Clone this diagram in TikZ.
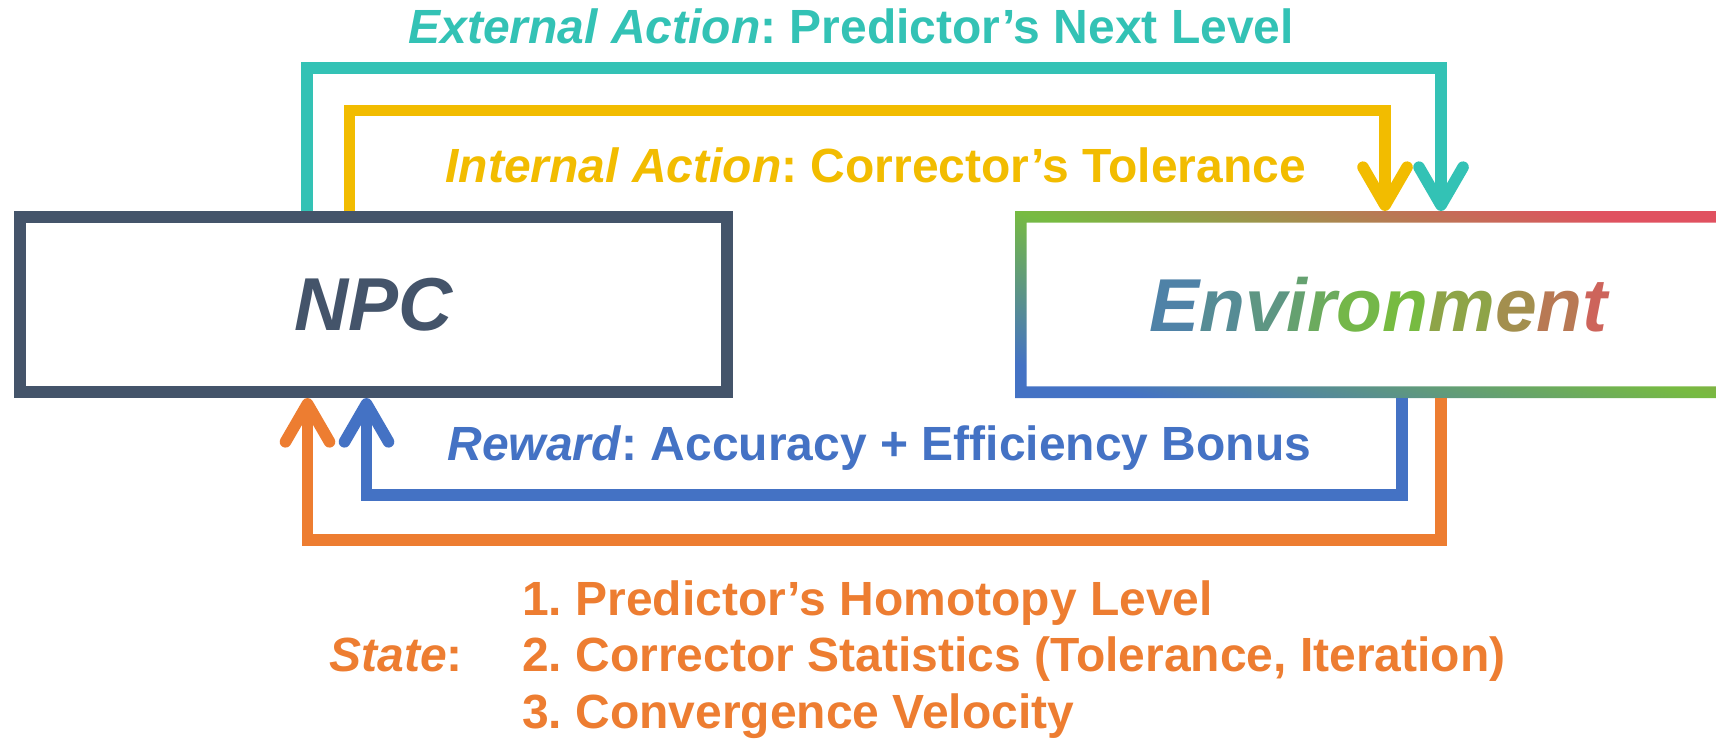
\documentclass[tikz,border=0pt]{standalone}
\usepackage{fontspec}
\setmainfont{Liberation Sans}
\usetikzlibrary{arrows.meta}
\definecolor{cteal}{HTML}{33C2B5}
\definecolor{cyellow}{HTML}{F2BC00}
\definecolor{cslate}{HTML}{44546A}
\definecolor{cblue}{HTML}{4472C4}
\definecolor{corange}{HTML}{ED7D31}
\definecolor{ggreen}{HTML}{77BB41}
\definecolor{gred}{HTML}{E05160}
\begin{document}
\frenchspacing
\begin{tikzpicture}[x=0.5pt,y=-0.5pt,
  conn/.style={line width=5.8pt, line join=miter, -{Straight Barb[length=19pt,width=22pt,round]}},
  lbl/.style={font=\fontsize{24}{28}\selectfont\bfseries, inner sep=0pt, anchor=base west},
  big/.style={font=\fontsize{37.5}{42}\selectfont\bfseries\itshape, inner sep=0pt}
]
\useasboundingbox (0,0) rectangle (1716,738);
\clip (0,0) rectangle (1716,738);

% boxes
\node[big, draw=cslate, fill=white, line width=5.8pt, text=cslate,
      minimum width=353.7pt, minimum height=87.7pt] (npc) at (373.5,304.5) {NPC};
\node[big, outer sep=2.9pt, minimum width=357.7pt, minimum height=87.7pt] (env) at (1378.5,304.5)
  {\textcolor{ggreen!22!cblue}{E}\textcolor{ggreen!36!cblue}{n}\textcolor{ggreen!50!cblue}{v}\textcolor{ggreen!64!cblue}{i}\textcolor{ggreen!78!cblue}{r}\textcolor{ggreen!94!cblue}{o}\textcolor{ggreen}{n}\textcolor{gred!22!ggreen}{m}\textcolor{gred!42!ggreen}{e}\textcolor{gred!62!ggreen}{n}\textcolor{gred!82!ggreen}{t}};
\coordinate (edge) at (1716,0);
\shade[even odd rule, top color=gred, bottom color=cblue, middle color=ggreen, shading angle=-15]
  (env.north west) rectangle (env.south east -| edge)
  ([shift={(5.8pt,-5.8pt)}]env.north west) rectangle ([yshift=5.8pt]env.south east -| edge);

% corner coordinates
\coordinate (tl) at (307,68);
\coordinate (tr) at (1441,68);
\coordinate (yl) at (349.5,110.5);
\coordinate (yr) at (1385,110.5);
\coordinate (br) at (1402,495);
\coordinate (bl) at (366.5,495);
\coordinate (orr) at (1441,540);
\coordinate (ol) at (307.5,540);

% connectors
\draw[conn, cteal] (npc.north -| tl) -- (tl) -- (tr) -- (env.north -| tr);
\draw[conn, cyellow] (npc.north -| yl) -- (yl) -- (yr) -- (env.north -| yr);
\draw[conn, cblue] (env.south -| br) -- (br) -- (bl) -- (npc.south -| bl);
\draw[conn, corange] (env.south -| orr) -- (orr) -- (ol) -- (npc.south -| ol);

% labels
\node[lbl, text=cteal] (ext) at (408,44) {\textit{External Action}: Predictor’s Next Level};
\node[lbl, text=cyellow] (int) at (445,182) {\textit{Internal Action}: Corrector’s Tolerance};
\node[lbl, text=cblue] (rew) at (447,460) {\textit{Reward}: Accuracy + Efficiency Bonus};
\node[lbl, text=corange] (st) at (329,671.5) {\textit{State}:};
\node[lbl, text=corange] (s1) at (521.7,615) {1. Predictor’s Homotopy Level};
\node[lbl, text=corange] (s2) at (521.7,671.5) {2. Corrector Statistics (Tolerance, Iteration)};
\node[lbl, text=corange] (s3) at (521.7,728) {3. Convergence Velocity};
\end{tikzpicture}
\end{document}
